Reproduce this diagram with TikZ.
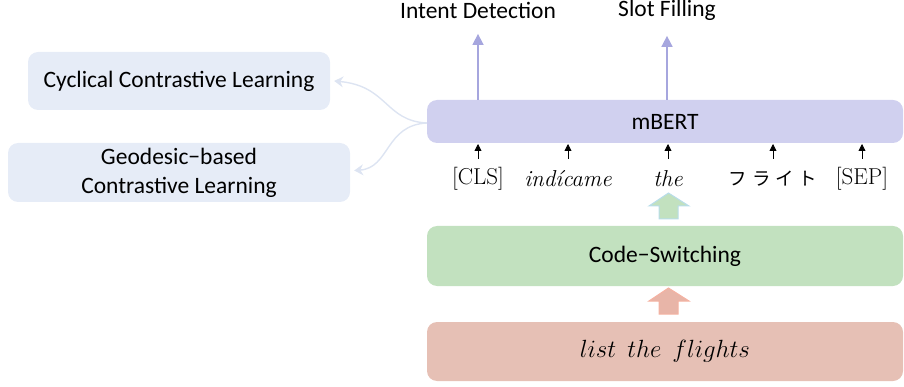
\documentclass[tikz,border=0pt]{standalone}
\usepackage{fontspec}
\usepackage{xcolor}
\usepackage{tikz}
\usetikzlibrary{positioning,arrows.meta}
\setsansfont{Carlito}
\newfontfamily\jpfont{Noto Sans CJK JP}

\definecolor{boxblue}{HTML}{E6ECF7}
\definecolor{bertfill}{HTML}{D0D0EF}
\definecolor{bertarrow}{HTML}{A6A6DE}
\definecolor{csfill}{HTML}{C2E1BF}
\definecolor{csedge}{HTML}{B8DDEA}
\definecolor{srcfill}{HTML}{E6C0B5}
\definecolor{srcarrow}{HTML}{E8B5A8}
\definecolor{srcedge}{HTML}{F5B2A2}
\definecolor{curve}{HTML}{DDE4F2}

\tikzset{
  layer/.style={rounded corners=10pt, inner sep=0pt, font=\sffamily\fontsize{23.5}{28}\selectfont},
  token/.style={inner sep=0pt, font=\fontsize{23}{26}\selectfont},
  outlabel/.style={inner sep=0pt, font=\sffamily\fontsize{23.5}{28}\selectfont},
  upbig/.style={draw=bertarrow, line width=1.6pt, -{Triangle[width=11pt,length=11pt]}},
  upsmall/.style={draw=black, line width=0.8pt, -{Triangle[width=7pt,length=7pt]}},
  curvelink/.style={draw=curve, line width=1.4pt, -{Stealth[width=11pt,length=9pt]}}
}

\begin{document}
\begin{tikzpicture}[x=1pt, y=-1pt]
\useasboundingbox (0,0) rectangle (904,387);

% Layers of the model
\node[layer, fill=bertfill, minimum width=476, minimum height=43] (bert) at (665,121.5) {mBERT};
\node[layer, fill=csfill, minimum width=476, minimum height=60] (cs) at (665,256) {Code\char"2212 Switching};
\node[layer, fill=srcfill, minimum width=476, minimum height=59, font=\fontsize{23}{26}\selectfont] (src) at (665,351.5) {$list\;\,the\;\,flights$};

% Contrastive learning boxes
\node[layer, fill=boxblue, minimum width=302, minimum height=58] (ccl) at (179,81) {Cyclical Contrastive Learning};
\node[layer, fill=boxblue, minimum width=342, minimum height=59, align=center, font=\sffamily\fontsize{23.5}{29}\selectfont] (gcl) at (179,172.5) {Geodesic\char"2212 based\\Contrastive Learning};

% Curved links from mBERT
\coordinate (split) at (427,123);
\draw[curvelink] (split) .. controls (385,121) and (388,86) .. ([xshift=4pt]ccl.east);
\draw[curvelink] (split) .. controls (385,125) and (390,168) .. ([xshift=4pt,yshift=2pt]gcl.east);

% Task outputs
\node[outlabel] (intent) at (478,10) {Intent Detection};
\node[outlabel] (slot) at (667,10) {Slot Filling};
\draw[upbig] (bert.north -| intent) -- ([yshift=-15.5pt]intent.south);
\draw[upbig] (bert.north -| slot) -- ([yshift=-15.5pt]slot.south);

% Input tokens
\foreach \x/\tok/\name in {478/{[CLS]}/t1, 568/{\itshape ind\'icame}/t2, 668/{\itshape the}/t3, 773/{\jpfont\fontsize{18.5}{20}\selectfont フ\hspace{5pt}ラ\hspace{5pt}イ\hspace{5pt}ト}/t4, 862/{[SEP]}/t5} {
    \node[token] (\name) at (\x,179) {\tok};
    \draw[upsmall] (\x,159) -- (\x,144);
}

% Block arrows between layers
\draw[fill=csfill, draw=csedge, line width=1pt] (659,219) -- (678,219) -- (678,206) -- (689,206) -- (668.5,193) -- (649,206) -- (659,206) -- cycle;
\draw[fill=srcarrow, draw=srcedge, line width=1pt] (659,314) -- (678,314) -- (678,301) -- (689,301) -- (668.5,288) -- (649,301) -- (659,301) -- cycle;

\end{tikzpicture}
\end{document}
